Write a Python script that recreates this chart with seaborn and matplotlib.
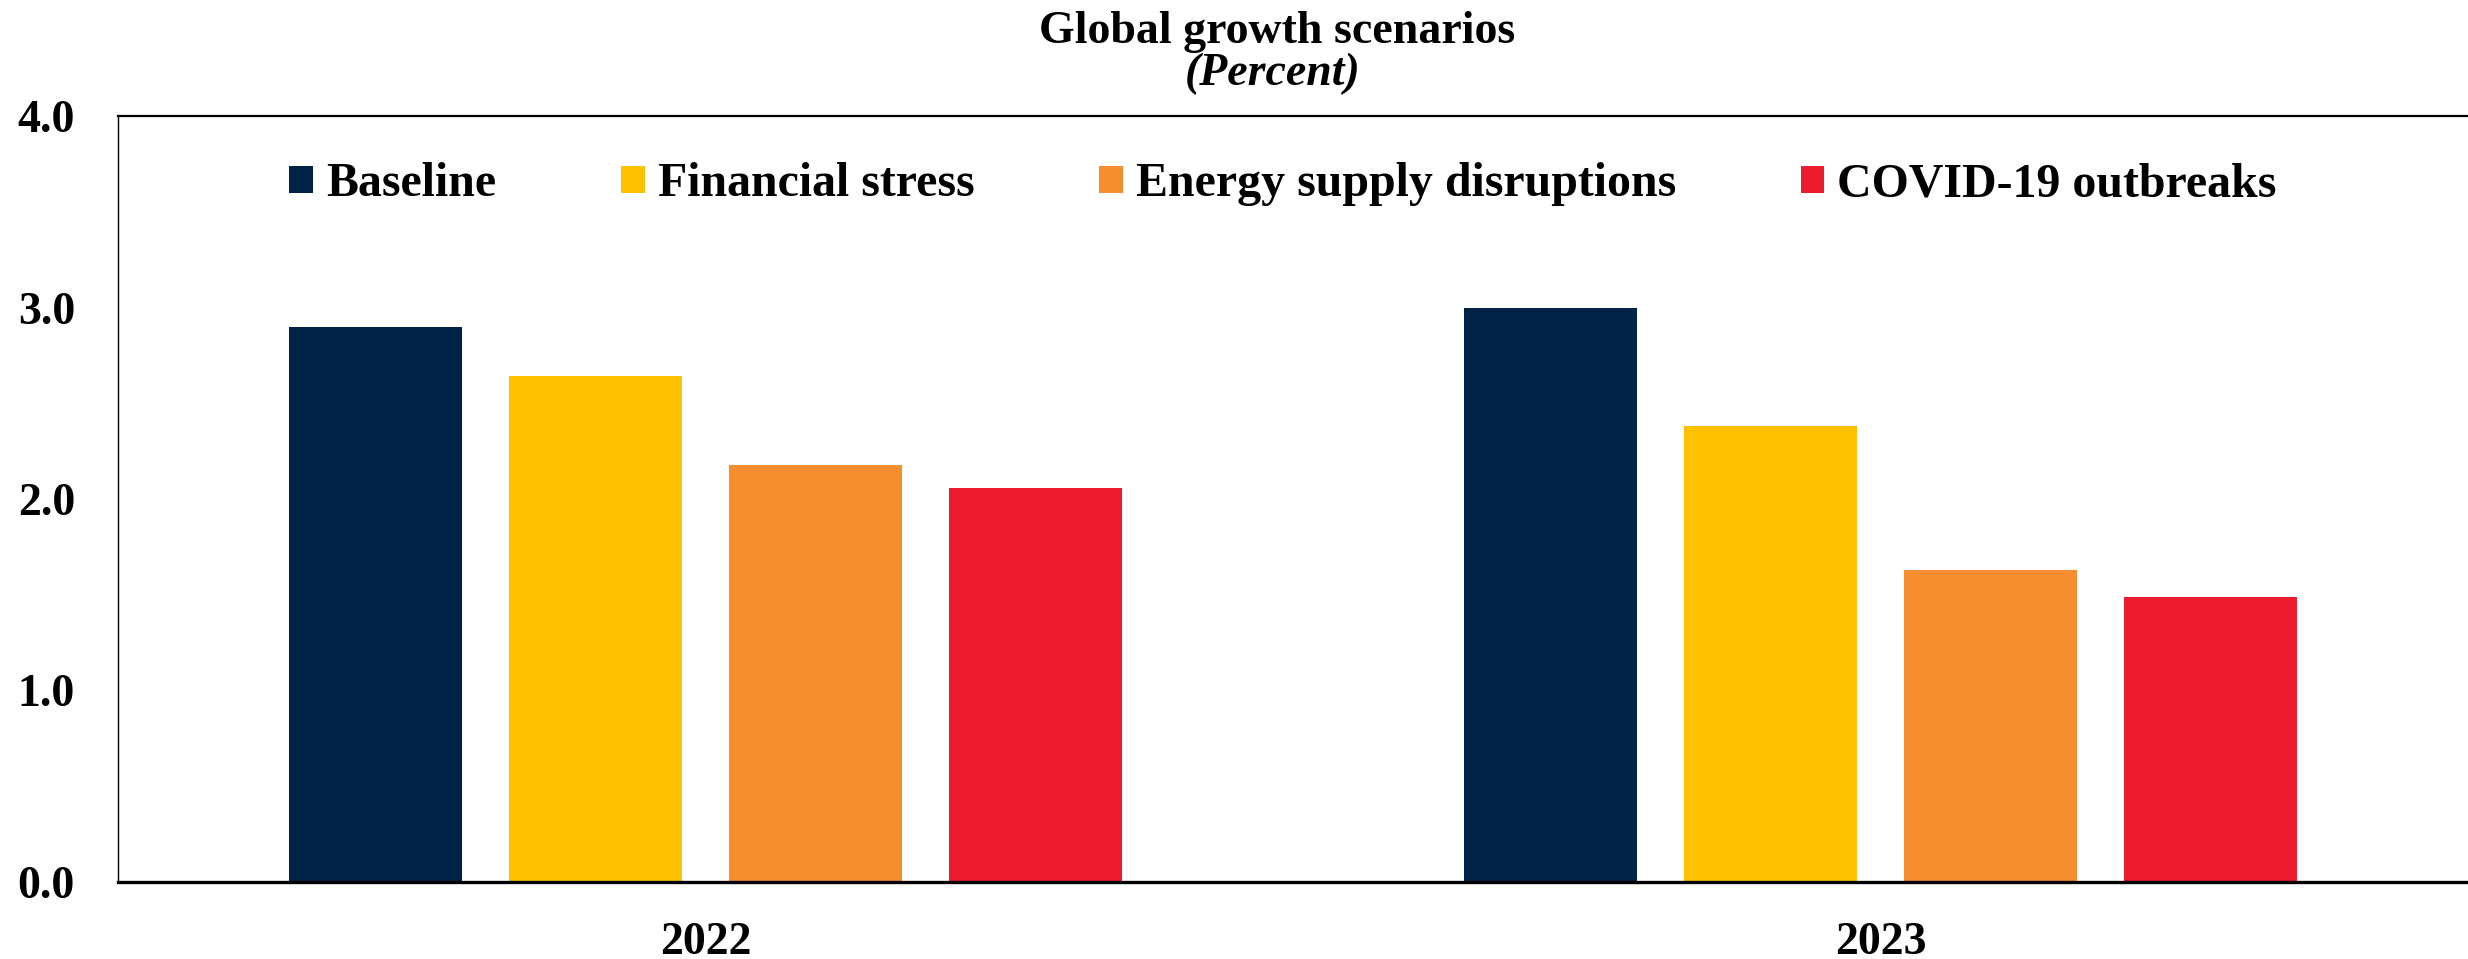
import matplotlib
matplotlib.use("Agg")
import matplotlib.pyplot as plt
from matplotlib.ticker import FormatStrFormatter
import seaborn as sns
import pandas as pd

# Global GDP growth by scenario (percent)
years = ["2022", "2023"]
scenarios = ["Baseline", "Financial stress", "Energy supply disruptions", "COVID-19 outbreaks"]
baseline = [2.90, 3.00]
financial_stress = [2.64, 2.38]
energy_disruptions = [2.18, 1.63]
covid_outbreaks = [2.06, 1.49]
colors = ["#002345", "#FFC000", "#F68D2E", "#EC1C2E"]

series = [baseline, financial_stress, energy_disruptions, covid_outbreaks]
df = pd.DataFrame(
    [(y, s, vals[i]) for s, vals in zip(scenarios, series) for i, y in enumerate(years)],
    columns=["year", "scenario", "growth"],
)

sns.set_theme(style="white")
plt.rcParams["font.family"] = ["Liberation Serif", "DejaVu Serif"]
plt.rcParams["font.weight"] = "bold"
plt.rcParams["text.color"] = "black"
plt.rcParams["axes.labelcolor"] = "black"
plt.rcParams["xtick.color"] = "black"
plt.rcParams["ytick.color"] = "black"

W, H = 2468, 959
fig = plt.figure(figsize=(W / 100, H / 100), dpi=100)
ax = fig.add_axes([118 / W, (H - 882) / H, 2350 / W, 766 / H])

sns.barplot(
    data=df, x="year", y="growth", hue="scenario",
    order=years, hue_order=scenarios, palette=colors,
    width=0.75, gap=0.215, saturation=1, linewidth=0, ax=ax,
)

ax.set_ylim(0, 4)
ax.set_xlim(-0.5, 1.5)
ax.set_yticks([0, 1, 2, 3, 4])
ax.yaxis.set_major_formatter(FormatStrFormatter("%.1f"))
ax.set_xlabel("")
ax.set_ylabel("")
ax.tick_params(axis="y", length=0, labelsize=33, pad=31, colors="black")
ax.tick_params(axis="x", length=0, labelsize=33, pad=28.5, colors="black")
for lab in ax.get_xticklabels() + ax.get_yticklabels():
    lab.set_fontweight("bold")
    lab.set_color("black")

for side in ["left", "top", "bottom", "right"]:
    ax.spines[side].set_color("black")
ax.spines["left"].set_linewidth(1.0)
ax.spines["top"].set_linewidth(1.6)
ax.spines["bottom"].set_linewidth(2.4)
ax.spines["right"].set_visible(False)

handles, labels = ax.get_legend_handles_labels()
leg = ax.legend(
    handles, labels, ncol=4, frameon=False,
    loc="center left", bbox_to_anchor=(0.0728, 0.911),
    borderpad=0, borderaxespad=0,
    handlelength=0.5, handleheight=0.5, handletextpad=0.27,
    columnspacing=2.6,
    prop={"size": 34.5, "weight": "bold"},
)
for t in leg.get_texts():
    t.set_color("black")

fig.text(1277 / W, (H - 43) / H, "Global growth scenarios",
         ha="center", va="baseline", fontsize=33, fontweight="bold", color="black")
fig.text(1273 / W, (H - 85) / H, "(Percent)",
         ha="center", va="baseline", fontsize=33, fontweight="bold",
         fontstyle="italic", color="black")

fig.savefig("out.png", dpi=100, facecolor="white")
